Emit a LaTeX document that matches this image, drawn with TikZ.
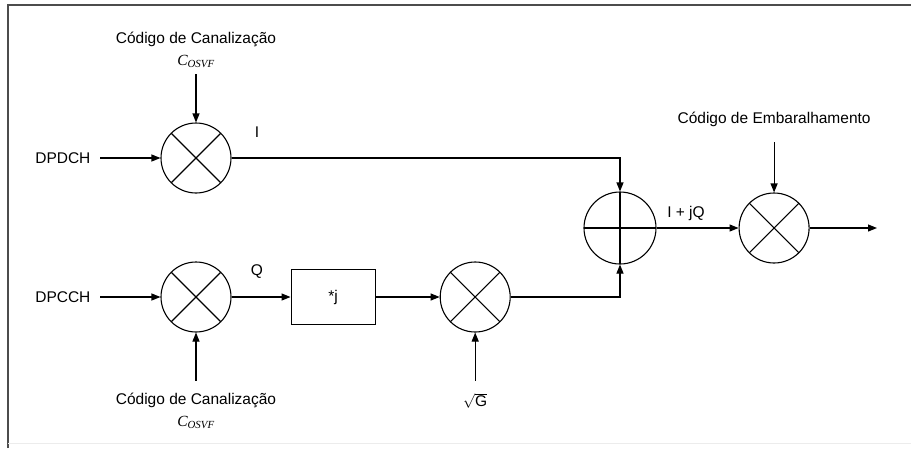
\documentclass[tikz,border=0pt]{standalone}
\usepackage{fontspec}
\setmainfont{Liberation Sans}
\newfontfamily\timesfont{Liberation Serif}
\usetikzlibrary{arrows.meta, positioning}

\newcommand{\cosvf}{{\timesfont\itshape C\textsubscript{OSVF}}}

\begin{document}
\begin{tikzpicture}[
x=1pt,
y=-1pt,
font=\fontsize{15.5}{22}\selectfont,
line width=1.1pt,
mixer/.style={
circle,
draw,
minimum size=70pt,
inner sep=0pt,
path picture={
\draw (path picture bounding box.north west) -- (path picture bounding box.south east);
\draw (path picture bounding box.south west) -- (path picture bounding box.north east);
}
},
adder/.style={
circle,
draw,
minimum size=72pt,
inner sep=0pt,
path picture={
\draw (path picture bounding box.west) -- (path picture bounding box.east);
\draw (path picture bounding box.north) -- (path picture bounding box.south);
}
},
gainbox/.style={
rectangle,
draw,
minimum width=84pt,
minimum height=55pt
},
code/.style={
align=center,
inner xsep=2pt
},
arrow/.style={
-{Triangle[length=9pt,width=7pt]}
}
]

\useasboundingbox (0,0) rectangle (911,448);
\draw[gray!60!black, line width=1.6pt] (8,448) -- (8,5) -- (911,5);
\draw[gray!15, line width=1pt] (8,443) -- (911,443);

\node[mixer] (m1) at (196,158) {};
\node[mixer] (m2) at (196,297) {};
\node[gainbox, right=59pt of m2] (j) {*j};
\node[mixer, right=64pt of j] (m3) {};
\node[adder] (sum) at (620,228) {};
\node[mixer, right=82pt of sum] (m4) {};

\node[code, inner ysep=6pt, above=48pt of m1] (c1)
{Código de Canalização\\
\cosvf};

\node[code, inner ysep=12pt, below=48pt of m2] (c2)
{Código de Canalização\\
\cosvf};

\node[code, inner ysep=12pt, below=48pt of m3] (g)
{$\sqrt{\hbox{G}}$};

\node[code, inner ysep=15pt, above=50pt of m4] (c3)
{Código de Embaralhamento};

\node[anchor=east, inner xsep=9pt] (dpdch) at (100,158) {DPDCH};
\node[anchor=east, inner xsep=9pt] (dpcch) at (100,297) {DPCCH};

\node (i) at (257,132) {I};
\node (q) at (257,272) {Q};
\node (iq) at (686,213) {I + jQ};

\coordinate (out) at (877,228);

\draw[arrow] (dpdch) -- (m1);
\draw[arrow] (dpcch) -- (m2);
\draw[arrow] (c1) -- (m1);
\draw[arrow] (c2) -- (m2);
\draw[arrow] (g) -- (m3);
\draw[arrow] (c3) -- (m4);
\draw[arrow] (m2) -- (j);
\draw[arrow] (j) -- (m3);
\draw[arrow] (m1.east) -| (sum.north);
\draw[arrow] (m3.east) -| (sum.south);
\draw[arrow] (sum) -- (m4);
\draw[arrow] (m4) -- (out);

\end{tikzpicture}
\end{document}
